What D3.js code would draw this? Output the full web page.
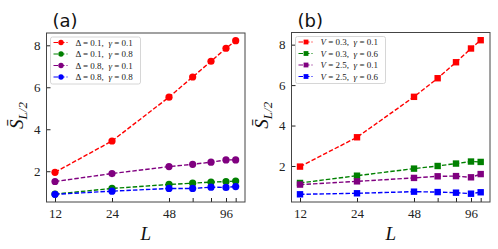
<!DOCTYPE html>
<html lang="en">
<head>
<meta charset="UTF-8">
<title>Entanglement entropy vs L</title>
<script src="https://d3js.org/d3.v7.min.js"></script>
<style>
  body { margin: 0; background: #fff; }
  svg { display: block; }
  .tick text { font-family: "Liberation Serif", "DejaVu Serif", serif; font-size: 13px; fill: #222; }
  .leg text { font-family: "Liberation Serif", "DejaVu Serif", serif; font-size: 9px; fill: #222; }
</style>
</head>
<body>
<svg id="chart" width="498" height="249"></svg>
<script>
// system sizes
const sizes = [12, 24, 48, 64, 80, 96, 108];
const tickLabels = [12, 24, 48, 96];

// panel (a): circles
const seriesA = [
  { label: ["Δ = 0.1,  ", "γ", " = 0.1"], color: "red",    values: [1.95, 3.44, 5.53, 6.49, 7.24, 7.86, 8.22] },
  { label: ["Δ = 0.1,  ", "γ", " = 0.8"], color: "green",  values: [0.91, 1.18, 1.37, 1.43, 1.48, 1.51, 1.53] },
  { label: ["Δ = 0.8,  ", "γ", " = 0.1"], color: "purple", values: [1.51, 1.89, 2.22, 2.33, 2.43, 2.54, 2.54] },
  { label: ["Δ = 0.8,  ", "γ", " = 0.8"], color: "blue",   values: [0.90, 1.05, 1.18, 1.18, 1.24, 1.23, 1.27] }
];

// panel (b): squares
const seriesB = [
  { label: ["V", " = 0.3,  ", "γ", " = 0.1"], color: "red",    values: [1.97, 3.42, 5.42, 6.34, 7.13, 7.81, 8.22] },
  { label: ["V", " = 0.3,  ", "γ", " = 0.6"], color: "green",  values: [1.16, 1.52, 1.87, 2.00, 2.12, 2.22, 2.20] },
  { label: ["V", " = 2.5,  ", "γ", " = 0.1"], color: "purple", values: [1.08, 1.24, 1.41, 1.49, 1.50, 1.44, 1.60] },
  { label: ["V", " = 2.5,  ", "γ", " = 0.6"], color: "blue",   values: [0.60, 0.65, 0.73, 0.71, 0.68, 0.63, 0.70] }
];

const yTicks = [2, 4, 6, 8];
const svg = d3.select("#chart");
const serif = '"Liberation Serif", "DejaVu Serif", serif';

function drawPanel(cfg) {
  const { left, right, top, bottom, series, marker, tag } = cfg;
  const all = series.flatMap(s => s.values);
  const lo = d3.min(all), hi = d3.max(all), pad = (hi - lo) * 0.05;
  const x = d3.scaleLog().domain([sizes[0] / 1.109, sizes[sizes.length - 1] * 1.12]).range([left, right]);
  const y = d3.scaleLinear().domain([lo - pad, hi + pad]).range([bottom, top]);
  const g = svg.append("g");

  // x axis: ticks at every size, labels only on some
  const xa = g.append("g").attr("transform", `translate(0,${bottom})`)
    .call(d3.axisBottom(x).tickValues(sizes).tickSizeInner(-4).tickSizeOuter(0).tickPadding(7)
      .tickFormat(d => tickLabels.includes(d) ? d : ""));
  xa.select(".domain").remove();
  xa.selectAll(".tick line").attr("stroke", "#222");

  const ya = g.append("g").attr("transform", `translate(${left},0)`)
    .call(d3.axisLeft(y).tickValues(yTicks).tickSizeInner(-4).tickSizeOuter(0).tickPadding(6));
  ya.select(".domain").remove();
  ya.selectAll(".tick line").attr("stroke", "#222");

  g.append("rect").attr("x", left).attr("y", top).attr("width", right - left).attr("height", bottom - top)
    .attr("fill", "none").attr("stroke", "#444").attr("stroke-width", 1);

  const line = d3.line().x((d, i) => x(sizes[i])).y(d => y(d));
  series.forEach(s => {
    g.append("path").attr("d", line(s.values)).attr("fill", "none")
      .attr("stroke", s.color).attr("stroke-width", 1.4).attr("stroke-dasharray", "4.5,2");
    s.values.forEach((v, i) => drawMarker(g, marker, x(sizes[i]), y(v), s.color));
  });

  // legend
  const lg = g.append("g").attr("class", "leg");
  lg.append("rect").attr("x", left + 4).attr("y", top + 4).attr("width", 90).attr("height", 47)
    .attr("rx", 2).attr("fill", "#fff").attr("fill-opacity", 0.85).attr("stroke", "#ccc").attr("stroke-width", 0.8);
  series.forEach((s, i) => {
    const yy = top + 9.5 + i * 11.5;
    lg.append("line").attr("x1", left + 7).attr("x2", left + 21).attr("y1", yy).attr("y2", yy)
      .attr("stroke", s.color).attr("stroke-width", 1.2).attr("stroke-dasharray", "4.5,2");
    drawMarker(lg, marker, left + 14.5, yy, s.color, 0.75);
    const t = lg.append("text").attr("x", left + 29).attr("y", yy + 3).attr("xml:space", "preserve");
    s.label.forEach(part => {
      const it = part === "γ" || part === "V";
      t.append("tspan").attr("font-style", it ? "italic" : "normal").text(part);
    });
  });

  // labels
  g.append("text").attr("x", left + 6).attr("y", 27)
    .attr("font-family", '"DejaVu Sans", sans-serif').attr("font-size", 18).attr("fill", "#111").text(tag);
  g.append("text").attr("x", (left + right) / 2).attr("y", 240).attr("text-anchor", "middle")
    .attr("font-family", serif).attr("font-style", "italic").attr("font-size", 19).attr("fill", "#111").text("L");
  const yl = g.append("text").attr("transform", `translate(${left - 24},${(top + bottom) / 2 - 2}) rotate(-90)`)
    .attr("text-anchor", "middle").attr("font-family", serif).attr("font-size", 19).attr("fill", "#111");
  yl.append("tspan").attr("font-style", "italic").text("S\u0304");
  yl.append("tspan").attr("font-style", "italic").attr("font-size", 13).attr("dy", 4).text("L/2");
}

function drawMarker(g, type, cx, cy, color, k = 1) {
  if (type === "circle") {
    g.append("circle").attr("cx", cx).attr("cy", cy).attr("r", 3.6 * k).attr("fill", color);
  } else {
    const s = 6.4 * k;
    g.append("rect").attr("x", cx - s / 2).attr("y", cy - s / 2).attr("width", s).attr("height", s).attr("fill", color);
  }
}

drawPanel({ left: 46.5, right: 245, top: 33, bottom: 202, series: seriesA, marker: "circle", tag: "(a)" });
drawPanel({ left: 291.5, right: 490, top: 32.5, bottom: 202, series: seriesB, marker: "square", tag: "(b)" });
</script>
</body>
</html>
